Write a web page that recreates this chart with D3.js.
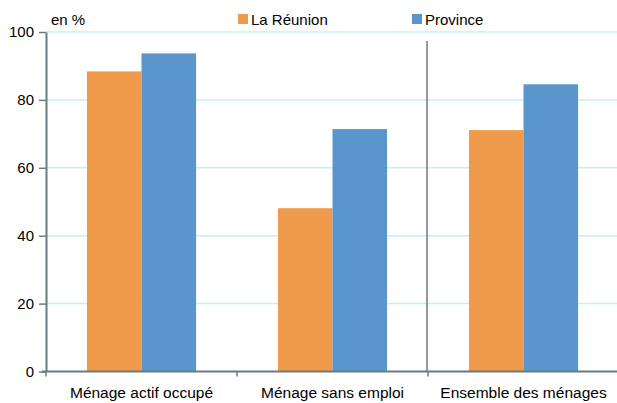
<!DOCTYPE html>
<html>
<head>
<meta charset="utf-8">
<script src="https://cdn.jsdelivr.net/npm/d3@7"></script>
<style>
  body { margin: 0; background: #fff; }
  text { font-family: "Liberation Sans", Arial, sans-serif; fill: #000; }
</style>
</head>
<body>
<div id="chart"></div>
<script>
let categories = ['Ménage actif occupé', 'Ménage sans emploi', 'Ensemble des ménages'];
let series = ['La Réunion', 'Province'];
let reunion = [88.4, 48.1, 71.1];
let province = [93.7, 71.4, 84.6];
let yTicks = [0, 20, 40, 60, 80, 100];
let colors = ['#f09b4b', '#5a96cc'];

let width = 617, height = 403;
let margin = ({top: 32, right: 0, bottom: 31, left: 46});

let svg = d3.select('#chart').append('svg')
    .attr('width', width)
    .attr('height', height);

let x = d3.scaleBand()
    .domain(categories)
    .range([margin.left, 619])
    .paddingInner(0)
    .paddingOuter(0);

let xSub = d3.scaleBand()
    .domain(series)
    .range([0, x.bandwidth()])
    .paddingInner(0)
    .paddingOuter(0.75);

let y = d3.scaleLinear()
    .domain([0, 100])
    .range([height - margin.bottom - 0.5, margin.top]);

// gridlines
svg.append('g')
    .selectAll('line')
    .data(yTicks.filter(d => d > 0))
    .enter().append('line')
    .attr('x1', margin.left)
    .attr('x2', width)
    .attr('y1', d => y(d))
    .attr('y2', d => y(d))
    .attr('stroke', '#c4eff8')
    .attr('stroke-width', 1.5);

// bars
let rows = categories.map((c, i) => ({cat: c, vals: [reunion[i], province[i]]}));
let groups = svg.append('g')
    .selectAll('g')
    .data(rows)
    .enter().append('g')
    .attr('transform', d => `translate(${x(d.cat)}, 0)`);

groups.selectAll('rect')
    .data(d => d.vals.map((v, j) => ({key: series[j], v: v, j: j})))
    .enter().append('rect')
    .attr('x', d => xSub(d.key))
    .attr('width', xSub.bandwidth())
    .attr('y', d => y(d.v))
    .attr('height', d => y(0) - y(d.v))
    .attr('fill', d => colors[d.j]);

// separator line before last group
svg.append('line')
    .attr('x1', x(categories[2]) - 1)
    .attr('x2', x(categories[2]) - 1)
    .attr('y1', 41)
    .attr('y2', y(0))
    .attr('stroke', '#555')
    .attr('stroke-width', 1.2);

// y axis
let yAxis = svg.append('g')
    .attr('transform', `translate(${margin.left}, 0)`)
    .call(d3.axisLeft(y).tickValues(yTicks).tickSize(7).tickSizeOuter(0).tickPadding(5));
yAxis.select('.domain').attr('stroke', '#6b7b82').attr('stroke-width', 2);
yAxis.selectAll('.tick line').attr('stroke', '#6b7b82').attr('stroke-width', 1.5);
yAxis.selectAll('.tick text')
    .style('font-size', '15px')
    .style('font-family', '"Liberation Sans", Arial, sans-serif')
    .attr('fill', '#000');

// x axis
let xAxis = svg.append('g')
    .attr('transform', `translate(0, ${y(0)})`);
xAxis.append('line')
    .attr('x1', margin.left - 4)
    .attr('x2', width)
    .attr('stroke', '#6b7b82')
    .attr('stroke-width', 2);
xAxis.selectAll('.xtick')
    .data(categories)
    .enter().append('line')
    .attr('x1', d => x(d))
    .attr('x2', d => x(d))
    .attr('y1', 0)
    .attr('y2', 5)
    .attr('stroke', '#6b7b82')
    .attr('stroke-width', 1.5);
xAxis.selectAll('text')
    .data(categories)
    .enter().append('text')
    .attr('x', d => x(d) + x.bandwidth() / 2)
    .attr('y', 26)
    .attr('text-anchor', 'middle')
    .style('font-size', '15.5px')
    .text(d => d);

// unit label
svg.append('text')
    .attr('x', 51)
    .attr('y', 25)
    .style('font-size', '15px')
    .text('en %');

// legend
let legendX = [238, 412];
let legend = svg.selectAll('.legend')
    .data(series)
    .enter().append('g')
    .attr('class', 'legend')
    .attr('transform', (d, i) => `translate(${legendX[i]}, 14)`);
legend.append('rect')
    .attr('width', 10)
    .attr('height', 10)
    .attr('fill', (d, i) => colors[i]);
legend.append('text')
    .attr('x', 13)
    .attr('y', 10.5)
    .style('font-size', '15px')
    .text(d => d);
</script>
</body>
</html>
